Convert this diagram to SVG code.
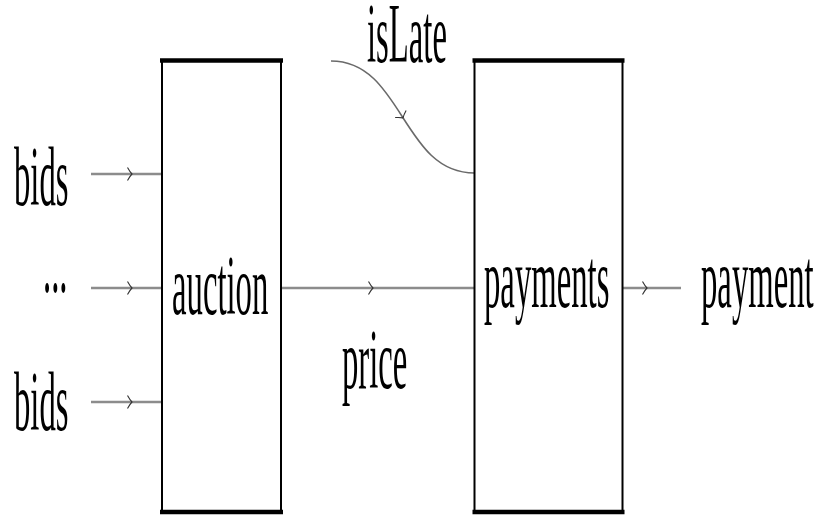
<svg xmlns="http://www.w3.org/2000/svg" width="819" height="516" viewBox="0 0 819 516">
<defs>
<marker id="tip" markerUnits="userSpaceOnUse" markerWidth="20" markerHeight="20" refX="10" refY="10" orient="auto" viewBox="0 0 20 20" overflow="visible">
<path d="M 6.5 3.5 Q 9 8 11 10 Q 9 12 6.5 16.5" fill="none" stroke="#333" stroke-width="1.1"/>
</marker>
</defs>
<style>
.lbl{font-family:"Liberation Serif","DejaVu Serif",serif;font-size:85px;fill:#000}
.box{fill:#fff;stroke:#000;stroke-width:2}
.bar{stroke:#000;stroke-width:4.5}
.wire{fill:none;stroke:#8c8c8c;stroke-width:2.6;marker-mid:url(#tip)}
.thin{fill:none;stroke:#6a6a6a;stroke-width:1.6;marker-mid:url(#tip)}
</style>
<rect width="819" height="516" fill="#fff"/>
<g id="connectors">
<path class="wire" d="M 91 174 L 131 174 L 162 174"/>
<path class="wire" d="M 91 288 L 131 288 L 162 288"/>
<path class="wire" d="M 91 402 L 131 402 L 162 402"/>
<path class="wire" d="M 281 288 L 372 288 L 474.5 288"/>
<path class="wire" d="M 622.5 288 L 646 288 L 681 288"/>
<path class="thin" d="M 331 61 C 367 61 384.75 89 402.5 117 C 420.25 145 438 173 474.5 173"/>
</g>
<g id="auction">
<rect class="box" x="162" y="61" width="119" height="451"/>
<line class="bar" x1="160" y1="60.5" x2="283" y2="60.5"/>
<line class="bar" x1="160" y1="512" x2="283" y2="512"/>
<text class="lbl" transform="translate(172,314) scale(0.385,1)">auction</text>
</g>
<g id="payments">
<rect class="box" x="474.5" y="61" width="148" height="451"/>
<line class="bar" x1="472.5" y1="60.5" x2="624.5" y2="60.5"/>
<line class="bar" x1="472.5" y1="512" x2="624.5" y2="512"/>
<text class="lbl" transform="translate(484,307) scale(0.385,1)">payments</text>
</g>
<g id="labels">
<text class="lbl" transform="translate(14,205) scale(0.385,1)">bids</text>
<text class="lbl" transform="translate(43,292) scale(0.385,1)">...</text>
<text class="lbl" transform="translate(14,430) scale(0.385,1)">bids</text>
<text class="lbl" transform="translate(367,62) scale(0.385,1)">isLate</text>
<text class="lbl" transform="translate(342,388) scale(0.385,1)">price</text>
<text class="lbl" transform="translate(701,307) scale(0.385,1)">payment</text>
</g>
</svg>
